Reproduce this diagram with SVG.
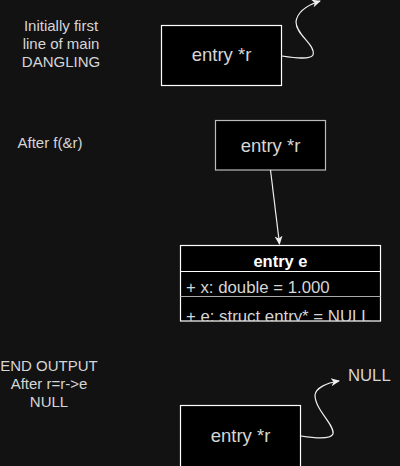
<svg xmlns="http://www.w3.org/2000/svg" width="400" height="466" viewBox="0 0 400 466">
<style>
text{font-family:"Liberation Sans",Arial,sans-serif;fill:#d6d6d6}
.lbl{font-size:15px;text-anchor:middle}
.box{fill:#000;stroke:#fff;stroke-width:1.2}
.bt{font-size:18.5px;text-anchor:middle}
.row{font-size:16.8px}
.edge{fill:none;stroke:#f0f0f0;stroke-width:1.2}
</style>
<defs>
<marker id="ah" markerWidth="10" markerHeight="10" refX="8" refY="5" orient="auto" markerUnits="userSpaceOnUse">
<path d="M0,1 L9,5 L0,9 L2.5,5 Z" fill="#f0f0f0"/>
</marker>
<clipPath id="tc"><rect x="180" y="245" width="200" height="76"/></clipPath>
</defs>
<rect width="400" height="466" fill="#121212"/>
<g id="label1"><text class="lbl" x="61" y="31">Initially first</text><text class="lbl" x="61" y="49">line of main</text><text class="lbl" x="61" y="67">DANGLING</text></g>
<g id="label2"><text class="lbl" x="50" y="148">After f(&amp;r)</text></g>
<g id="label3"><text class="lbl" x="49" y="371">END OUTPUT</text><text class="lbl" x="49" y="389">After r=r-&gt;e</text><text class="lbl" x="49" y="407">NULL</text></g>
<g id="null"><text x="348" y="381" style="font-size:16.7px">NULL</text></g>
<g id="r1"><rect class="box" x="161.5" y="25.5" width="120" height="60"/><text class="bt" x="221.5" y="61">entry *r</text></g>
<g id="r2"><rect class="box" x="215.5" y="120.5" width="110" height="49.5" style="stroke:#bbb"/><text class="bt" x="270.5" y="151.5">entry *r</text></g>
<g id="r3"><rect class="box" x="180.5" y="405.5" width="120" height="70"/><text class="bt" x="240.5" y="441.5">entry *r</text></g>
<g id="entry_e">
<rect class="box" x="180.5" y="245.5" width="200" height="75.5"/>
<line x1="180.5" y1="271.5" x2="380.5" y2="271.5" stroke="#fff" stroke-width="1.2"/>
<line x1="180.5" y1="296.5" x2="380.5" y2="296.5" stroke="#aaa" stroke-width="1.2"/>
<text x="280.5" y="267" style="font-size:16.5px;font-weight:bold;text-anchor:middle;fill:#fff">entry e</text>
<text class="row" x="186" y="292.5">+ x: double = 1.000</text>
<g clip-path="url(#tc)"><text class="row" x="186" y="321.5">+ e: struct entry* = NULL</text></g>
</g>
<g id="connectors">
<path class="edge" d="M282,56 C295,58 310,60 313,55 C316,45 296,35 296,22 C297,12 308,5 320,1" marker-end="url(#ah)"/>
<path class="edge" d="M270.5,170 L279.5,244" marker-end="url(#ah)"/>
<path class="edge" d="M301,436 C314,438 330,440 333,434 C335,425 315,410 315,395 C316,388 326,383 339,381" marker-end="url(#ah)"/>
</g>
</svg>
